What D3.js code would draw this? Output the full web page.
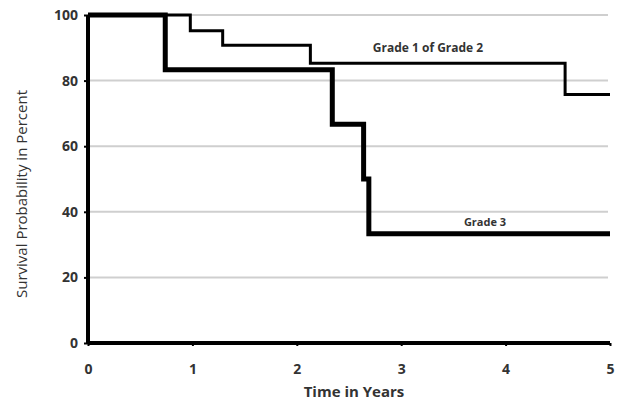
<!DOCTYPE html>
<html>
<head>
<meta charset="utf-8">
<script src="https://cdn.jsdelivr.net/npm/d3@7"></script>
<style>
  body { margin: 0; background: #fff; }
  text { font-family: "Open Sans", "Noto Sans", sans-serif; font-weight: bold; fill: #333; }
</style>
</head>
<body>
<svg id="chart" width="622" height="404"></svg>
<script>
// step points [time in years, survival %]
const grade12Times = [0, 0.98, 1.29, 2.13, 4.57, 5];
const grade12Values = [100, 95.2, 90.8, 85.3, 75.8, 75.8];
const grade3Times = [0, 0.74, 2.34, 2.64, 2.69, 5];
const grade3Values = [100, 83.3, 66.7, 50, 33.3, 33.3];
const xTicks = [0, 1, 2, 3, 4, 5];
const yTicks = [0, 20, 40, 60, 80, 100];

const svg = d3.select("#chart");
const margin = { left: 88, right: 12, top: 15, bottom: 61 };
const w = 622, h = 404;

const x = d3.scaleLinear().domain([0, 5]).range([margin.left, w - margin.right]);
const y = d3.scaleLinear().domain([0, 100]).range([h - margin.bottom, margin.top]);

// gridlines
svg.append("g")
  .selectAll("line")
  .data(yTicks.filter(d => d > 0))
  .enter().append("line")
  .attr("x1", x(0)).attr("x2", x(5) - 2)
  .attr("y1", d => y(d)).attr("y2", d => y(d))
  .attr("stroke", "#cfcfcf")
  .attr("stroke-width", 2);

// axes
const xAxis = d3.axisBottom(x).tickValues(xTicks).tickSize(3).tickFormat(d3.format("d"));
const yAxis = d3.axisLeft(y).tickValues(yTicks).tickSize(4).tickFormat(d3.format("d"));

const gx = svg.append("g")
  .attr("transform", "translate(0," + y(0) + ")")
  .call(xAxis);
gx.select(".domain").attr("stroke", "#000").attr("stroke-width", 4).attr("d", "M" + x(0) + ",0H" + x(5));
gx.selectAll(".tick line").attr("stroke", "#000").attr("stroke-width", 2);
gx.selectAll(".tick text").attr("dy", "1.75em").style("font-size", "14px");

const gy = svg.append("g")
  .attr("transform", "translate(" + x(0) + ",0)")
  .call(yAxis);
gy.select(".domain").attr("stroke", "#000").attr("stroke-width", 4).attr("d", "M0," + y(100) + "V" + y(0));
gy.selectAll(".tick line").attr("stroke", "#000").attr("stroke-width", 2);
gy.selectAll(".tick text").attr("x", -10).style("font-size", "14px");

// step curves
const line = d3.line()
  .x(d => x(d[0]))
  .y(d => y(d[1]))
  .curve(d3.curveStepAfter);

const grade12 = d3.zip(grade12Times, grade12Values);
const grade3 = d3.zip(grade3Times, grade3Values);

svg.append("path")
  .datum(grade12)
  .attr("d", line)
  .attr("fill", "none")
  .attr("stroke", "#000")
  .attr("stroke-width", 3);

svg.append("path")
  .datum(grade3)
  .attr("d", line)
  .attr("fill", "none")
  .attr("stroke", "#000")
  .attr("stroke-width", 5);

// labels
svg.append("text")
  .attr("x", 428).attr("y", 52)
  .attr("text-anchor", "middle")
  .style("font-size", "12px")
  .text("Grade 1 of Grade 2");

svg.append("text")
  .attr("x", 485).attr("y", 226)
  .attr("text-anchor", "middle")
  .style("font-size", "11px")
  .text("Grade 3");

svg.append("text")
  .attr("x", 354).attr("y", 397)
  .attr("text-anchor", "middle")
  .style("font-size", "15px")
  .text("Time in Years");

svg.append("text")
  .attr("transform", "translate(27," + 194 + ") rotate(-90)")
  .attr("text-anchor", "middle")
  .style("font-size", "15px")
  .style("font-weight", "normal")
  .text("Survival Probability in Percent");
</script>
</body>
</html>
